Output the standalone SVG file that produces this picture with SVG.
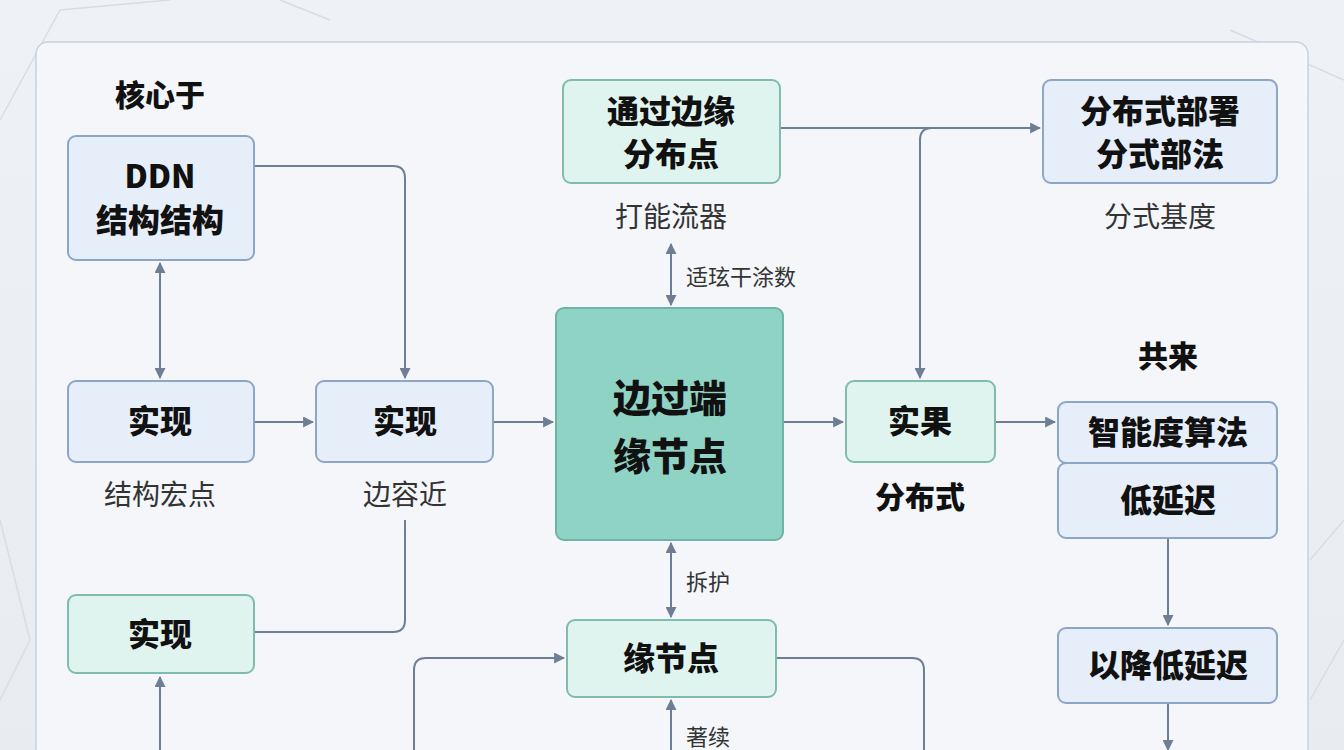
<svg xmlns="http://www.w3.org/2000/svg" width="1344" height="750" viewBox="0 0 1344 750">
<defs>
<marker id="ah" viewBox="0 0 10 10" refX="9" refY="5" markerWidth="11" markerHeight="11" orient="auto-start-reverse" markerUnits="userSpaceOnUse"><path d="M0,0 L10,5 L0,10 z" fill="#6e7f95"/></marker>
<linearGradient id="bg" x1="0" y1="0" x2="0" y2="1"><stop offset="0" stop-color="#eef1f5"/><stop offset="1" stop-color="#e8ecf1"/></linearGradient>
</defs>
<style>
text{font-family:"Noto Sans CJK SC","Noto Sans",sans-serif;text-anchor:middle;fill:#111}
.b{font-weight:900;font-size:32px}
.l{font-size:28px;fill:#333}
.s{font-size:22px;fill:#333;text-anchor:start}
.blue{fill:#e6eefa;stroke:#8ea6c6;stroke-width:2}
.green{fill:#e0f4ef;stroke:#7fbcad;stroke-width:2}
.c{fill:none;stroke:#6e7f95;stroke-width:2}
.net{stroke:#d6dde6;stroke-width:1.5;fill:none}
</style>
<rect width="1344" height="750" fill="url(#bg)"/>
<g class="net"><path d="M0,120 L60,10 L170,0 M0,520 L30,640 L0,700 M1230,30 L1344,80 M1310,560 L1344,520 M1310,700 L1344,640 M280,0 L330,20"/></g>
<rect x="36" y="42" width="1272" height="740" rx="12" fill="#f4f6f9" stroke="#c9d1dc" stroke-width="1.5"/>
<g id="connectors">
<path class="c" d="M254,166 H393 Q405,166 405,178 V378" marker-end="url(#ah)"/>
<path class="c" d="M160,263 V378" marker-start="url(#ah)" marker-end="url(#ah)"/>
<path class="c" d="M254,422 H313" marker-end="url(#ah)"/>
<path class="c" d="M493,422 H553" marker-end="url(#ah)"/>
<path class="c" d="M783,422 H843" marker-end="url(#ah)"/>
<path class="c" d="M995,422 H1055" marker-end="url(#ah)"/>
<path class="c" d="M780,128 H1040" marker-end="url(#ah)"/>
<path class="c" d="M920,378 V140 Q920,128 932,128"  marker-start="url(#ah)"/>
<path class="c" d="M671,244 V305" marker-start="url(#ah)" marker-end="url(#ah)"/>
<path class="c" d="M671,543 V617" marker-start="url(#ah)" marker-end="url(#ah)"/>
<path class="c" d="M405,520 V620 Q405,632 393,632 H254"/>
<path class="c" d="M160,750 V677" marker-end="url(#ah)"/>
<path class="c" d="M414,750 V670 Q414,658 426,658 H564" marker-end="url(#ah)"/>
<path class="c" d="M776,658 H912 Q924,658 924,670 V750"/>
<path class="c" d="M671,750 V700" marker-end="url(#ah)"/>
<path class="c" d="M1168,538 V625" marker-end="url(#ah)"/>
<path class="c" d="M1168,703 V750" marker-end="url(#ah)"/>
<text class="s" x="686" y="285">适玹干涂数</text>
<text class="s" x="686" y="590">拆护</text>
<text class="s" x="686" y="745">著续</text>
</g>
<text class="b" x="160" y="106" style="font-size:30px">核心于</text>
<g id="ddn"><rect class="blue" x="68" y="136" width="186" height="124" rx="8"/><text class="b" x="160" y="188">DDN</text><text class="b" x="160" y="232">结构结构</text></g>
<g id="a"><rect class="blue" x="68" y="381" width="186" height="81" rx="8"/><text class="b" x="160" y="433">实现</text><text class="l" x="160" y="505">结构宏点</text></g>
<g id="b"><rect class="blue" x="316" y="381" width="177" height="81" rx="8"/><text class="b" x="405" y="433">实现</text><text class="l" x="405" y="505">边容近</text></g>
<g id="c"><rect class="green" x="68" y="595" width="186" height="78" rx="8"/><text class="b" x="160" y="646">实现</text></g>
<g id="center"><rect x="556" y="308" width="227" height="232" rx="8" fill="#8fd3c5" stroke="#6eb3a6" stroke-width="2"/><text class="b" x="670" y="412" style="font-size:38px">边过端</text><text class="b" x="670" y="470" style="font-size:38px">缘节点</text></g>
<g id="top"><rect class="green" x="563" y="80" width="217" height="103" rx="8"/><text class="b" x="671" y="123">通过边缘</text><text class="b" x="671" y="166">分布点</text><text class="l" x="671" y="227">打能流器</text></g>
<g id="deploy"><rect class="blue" x="1043" y="80" width="234" height="103" rx="8"/><text class="b" x="1160" y="123">分布式部署</text><text class="b" x="1160" y="166">分式部法</text><text class="l" x="1160" y="227">分式基度</text></g>
<g id="result"><rect class="green" x="846" y="381" width="149" height="81" rx="8"/><text class="b" x="920" y="433">实果</text><text class="b" x="920" y="508" style="font-size:30px">分布式</text></g>
<text class="b" x="1168" y="367" style="font-size:30px">共来</text>
<g id="algo"><rect class="blue" x="1058" y="402" width="219" height="61" rx="8"/><text class="b" x="1168" y="444">智能度算法</text></g>
<g id="lat"><rect class="blue" x="1058" y="463" width="219" height="75" rx="8"/><text class="b" x="1168" y="512">低延迟</text></g>
<g id="reduce"><rect class="blue" x="1058" y="628" width="219" height="75" rx="8"/><text class="b" x="1168" y="677">以降低延迟</text></g>
<g id="edge"><rect class="green" x="567" y="620" width="209" height="77" rx="8"/><text class="b" x="671" y="670">缘节点</text></g>
</svg>
